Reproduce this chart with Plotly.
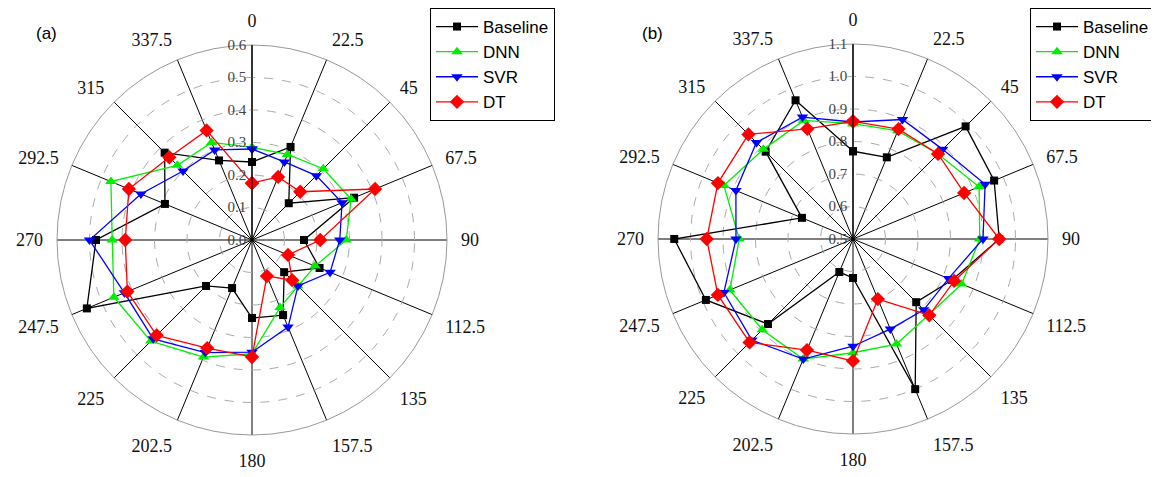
import plotly.graph_objects as go

angles = [0, 22.5, 45, 67.5, 90, 112.5, 135, 157.5, 180, 202.5, 225, 247.5, 270, 292.5, 315, 337.5]
angle_labels = ["0", "22.5", "45", "67.5", "90", "112.5", "135", "157.5", "180",
                "202.5", "225", "247.5", "270", "292.5", "315", "337.5"]

# Panel (a)
a_baseline = [0.24, 0.31, 0.16, 0.34, 0.16, 0.225, 0.14, 0.25, 0.24, 0.16, 0.20, 0.55, 0.48, 0.29, 0.38, 0.265]
a_dnn      = [0.285, 0.285, 0.31, 0.33, 0.29, 0.21, 0.20, 0.225, 0.35, 0.39, 0.44, 0.46, 0.43, 0.47, 0.325, 0.325]
a_svr      = [0.28, 0.26, 0.28, 0.30, 0.27, 0.26, 0.20, 0.29, 0.345, 0.375, 0.43, 0.425, 0.50, 0.37, 0.30, 0.30]
a_dt       = [0.175, 0.21, 0.21, 0.41, 0.21, 0.12, 0.175, 0.12, 0.36, 0.36, 0.415, 0.415, 0.39, 0.41, 0.36, 0.365]
a_ticks = [0.0, 0.1, 0.2, 0.3, 0.4, 0.5, 0.6]

# Panel (b)
b_baseline = [0.77, 0.772, 0.99, 0.97, 0.95, 0.83, 0.775, 1.0, 0.62, 0.61, 0.87, 0.99, 1.05, 0.67, 0.88, 0.962]
b_dnn      = [0.855, 0.86, 0.87, 0.92, 0.89, 0.862, 0.83, 0.85, 0.85, 0.90, 0.895, 0.91, 0.85, 0.93, 0.89, 0.895]
b_svr      = [0.86, 0.898, 0.89, 0.94, 0.90, 0.818, 0.808, 0.80, 0.83, 0.90, 0.94, 0.93, 0.86, 0.89, 0.92, 0.906]
b_dt       = [0.862, 0.866, 0.87, 0.87, 0.95, 0.837, 0.832, 0.70, 0.875, 0.87, 0.95, 0.95, 0.95, 0.95, 0.955, 0.867]
b_ticks = [0.5, 0.6, 0.7, 0.8, 0.9, 1.0, 1.1]

series_names = ["Baseline", "DNN", "SVR", "DT"]
colors = ["#000000", "#00EE00", "#0000FF", "#FF0000"]
symbols = ["square", "triangle-up", "triangle-down", "diamond"]
msizes = [8, 10, 10, 11]

# page body has an 8px margin; the figure is sized to fit the window
W, H = 1151, 469

fig = go.Figure()

def closed(v):
    return list(v) + [v[0]]

for data, subplot, legend in [
    ([a_baseline, a_dnn, a_svr, a_dt], "polar", "legend"),
    ([b_baseline, b_dnn, b_svr, b_dt], "polar2", "legend2"),
]:
    for name, vals, c, s, ms in zip(series_names, data, colors, symbols, msizes):
        fig.add_trace(go.Scatterpolar(
            r=closed(vals), theta=closed(angles), mode="lines+markers",
            name=name, subplot=subplot, legend=legend,
            line=dict(color=c, width=1.3),
            marker=dict(symbol=s, size=ms, color=c, line=dict(width=0)),
            cliponaxis=False,
        ))

serif = "Liberation Serif, Times New Roman, serif"
sans = "Liberation Sans, Arial, sans-serif"

def polar_layout(cx, cy, rad, ticks):
    return dict(
        domain=dict(x=[(cx - rad) / W, (cx + rad) / W],
                    y=[(H - cy - rad) / H, (H - cy + rad) / H]),
        bgcolor="white",
        gridshape="linear",
        angularaxis=dict(
            direction="clockwise", rotation=90,
            tickmode="array", tickvals=angles, ticktext=angle_labels,
            tickfont=dict(family=serif, size=18, color="#111"),
            ticks="outside", ticklen=10, tickcolor="rgba(0,0,0,0)",
            showgrid=True, gridcolor="#000", gridwidth=1.2,
            showline=True, linecolor="#999", linewidth=1,
        ),
        radialaxis=dict(
            range=[ticks[0], ticks[-1]], angle=90, side="counterclockwise",
            tickmode="array", tickvals=ticks, ticktext=[f"{t:.1f}" for t in ticks],
            tickfont=dict(family=serif, size=15, color="#444"),
            tickangle=90, ticks="",
            showgrid=True, gridcolor="#aaa", gridwidth=1, griddash="dash",
            showline=True, linecolor="#000", linewidth=1.2,
        ),
    )

legend_style = dict(xanchor="left", yanchor="top",
                    bordercolor="#000", borderwidth=1, bgcolor="white",
                    font=dict(family=sans, size=17, color="#000"),
                    itemwidth=42, tracegroupgap=0)

fig.update_layout(
    width=W, height=H,
    margin=dict(l=0, r=0, t=0, b=0),
    paper_bgcolor="white",
    polar=polar_layout(244, 232, 195, a_ticks),
    polar2=polar_layout(845, 231, 195, b_ticks),
    legend=dict(x=422 / W, y=1.0, **legend_style),
    legend2=dict(x=1022 / W, y=1.0, **legend_style),
    annotations=[
        dict(text="(a)", x=38 / W, y=1 - 25 / H, xref="paper", yref="paper",
             xanchor="center", yanchor="middle",
             showarrow=False, font=dict(family=sans, size=17, color="#000")),
        dict(text="(b)", x=644 / W, y=1 - 25 / H, xref="paper", yref="paper",
             xanchor="center", yanchor="middle",
             showarrow=False, font=dict(family=sans, size=17, color="#000")),
    ],
)

fig.write_html("out.html")
